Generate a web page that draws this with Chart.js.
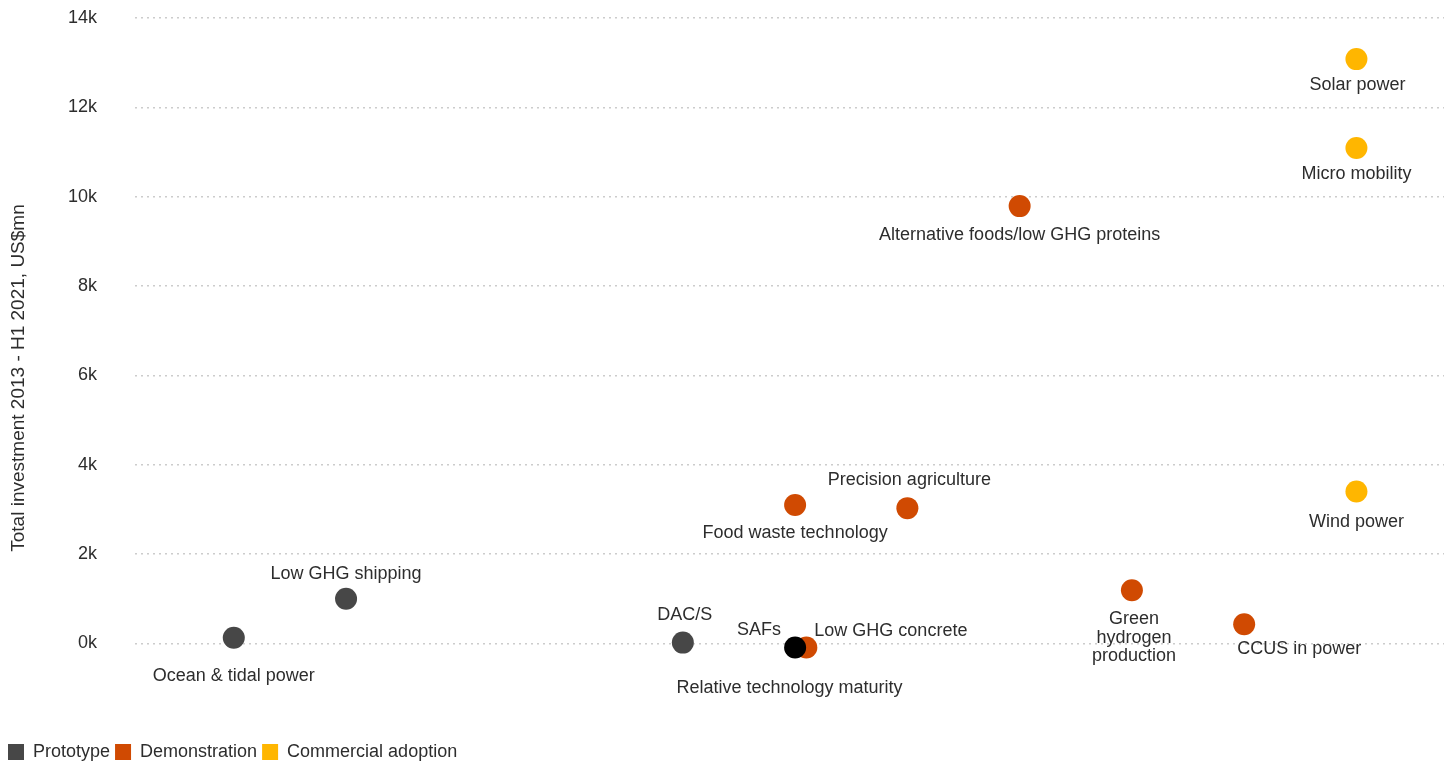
<!DOCTYPE html>
<html>
<head>
<meta charset="utf-8">
<script src="https://cdn.jsdelivr.net/npm/chart.js@4.4.0/dist/chart.umd.min.js"></script>
<style>
  html, body { margin: 0; padding: 0; background: #fff; }
  #wrap { width: 1444px; height: 762px; }
</style>
</head>
<body>
<div id="wrap"><canvas id="chart"></canvas></div>
<script>
// maturity (x) and total investment 2013 - H1 2021, US$mn (y)
var prototypeNames = ['Ocean & tidal power', 'Low GHG shipping', 'DAC/S', 'SAFs'];
var prototypeX = [1, 2, 5, 6];
var prototypeY = [130, 1000, 20, -90];

var demoNames = ['Low GHG concrete', 'Food waste technology', 'Precision agriculture',
    'Alternative foods/low GHG proteins', 'Green hydrogen production', 'CCUS in power'];
var demoX = [6.1, 6, 7, 8, 9, 10];
var demoY = [-90, 3100, 3030, 9790, 1190, 430];

var commercialNames = ['Solar power', 'Micro mobility', 'Wind power'];
var commercialX = [11, 11, 11];
var commercialY = [13080, 11090, 3400];

var yTicks = [0, 2000, 4000, 6000, 8000, 10000, 12000, 14000];

var FONT = '"Liberation Sans", Arial, sans-serif';
var TEXT = '#2d2d2d';

// where each label sits relative to its point (px), and alignment
var labelPlace = {
    'Ocean & tidal power': [0, 38, 'center'],
    'Low GHG shipping': [0, -25, 'center'],
    'DAC/S': [2, -28, 'center'],
    'SAFs': [-14, -17, 'right'],
    'Low GHG concrete': [8, -16, 'left'],
    'Food waste technology': [0, 28, 'center'],
    'Precision agriculture': [2, -28, 'center'],
    'Alternative foods/low GHG proteins': [0, 29, 'center'],
    'Green hydrogen production': [2, 29, 'center'],
    'CCUS in power': [55, 25, 'center'],
    'Solar power': [1, 26, 'center'],
    'Micro mobility': [0, 26, 'center'],
    'Wind power': [0, 30, 'center']
};
var multiLine = { 'Green hydrogen production': ['Green', 'hydrogen', 'production'] };

function toPoints(xs, ys) {
    var pts = [];
    for (let i = 0; i < xs.length; i++) {
        pts.push({x: xs[i], y: ys[i]});
    }
    return pts;
}

var pointLabels = {
    id: 'pointLabels',
    afterDatasetsDraw: function(chart) {
        var ctx = chart.ctx;
        ctx.save();
        ctx.font = '18px ' + FONT;
        ctx.fillStyle = TEXT;
        ctx.textBaseline = 'middle';
        chart.data.datasets.forEach(function(ds, di) {
            var meta = chart.getDatasetMeta(di);
            meta.data.forEach(function(el, i) {
                var name = ds.names[i];
                var p = labelPlace[name];
                ctx.textAlign = p[2];
                var lines = multiLine[name] || [name];
                for (let k = 0; k < lines.length; k++) {
                    ctx.fillText(lines[k], el.x + p[0], el.y + p[1] + k * 18.5);
                }
            });
        });
        // x axis title sits inside the plot
        ctx.textAlign = 'center';
        ctx.fillText('Relative technology maturity', chart.scales.x.getPixelForValue(5.95), chart.scales.y.getPixelForValue(-1000));
        ctx.restore();
    }
};

var ctx = document.getElementById('chart').getContext('2d');
var chart = new Chart(ctx, {
    type: 'scatter',
    data: {
        datasets: [{
            label: 'Prototype',
            names: prototypeNames,
            data: toPoints(prototypeX, prototypeY),
            backgroundColor: ['#474747', '#474747', '#474747', '#000000'],
            pointRadius: 11,
            pointHoverRadius: 11,
            borderWidth: 0
        }, {
            label: 'Demonstration',
            names: demoNames,
            data: toPoints(demoX, demoY),
            backgroundColor: '#d04a02',
            pointRadius: 11,
            pointHoverRadius: 11,
            borderWidth: 0
        }, {
            label: 'Commercial adoption',
            names: commercialNames,
            data: toPoints(commercialX, commercialY),
            backgroundColor: '#ffb600',
            pointRadius: 11,
            pointHoverRadius: 11,
            borderWidth: 0
        }]
    },
    options: {
        responsive: true,
        maintainAspectRatio: false,
        animation: false,
        layout: { autoPadding: false, padding: { top: 18, right: 0, left: 3, bottom: -9 } },
        scales: {
            x: {
                type: 'linear',
                display: false,
                min: 0.12,
                max: 11.78
            },
            y: {
                min: -2115,
                max: 14000,
                afterBuildTicks: function(axis) {
                    axis.ticks = yTicks.map(function(v) { return {value: v}; });
                },
                afterFit: function(axis) { axis.width = 132; },
                ticks: {
                    padding: 4,
                    color: TEXT,
                    font: { family: FONT, size: 18 },
                    callback: function(v) { return (v / 1000) + 'k'; }
                },
                grid: { color: '#cccccc', lineWidth: 1.5, drawTicks: true, tickLength: 34, tickColor: 'rgba(0,0,0,0)' },
                border: { display: false, dash: [2, 4] },
                title: {
                    display: true,
                    text: 'Total investment 2013 - H1 2021, US$mn',
                    color: TEXT,
                    font: { family: FONT, size: 19 },
                    padding: { top: 4, bottom: 4 }
                }
            }
        },
        plugins: {
            tooltip: { enabled: false },
            legend: {
                position: 'bottom',
                align: 'start',
                labels: {
                    boxWidth: 16,
                    boxHeight: 16,
                    padding: 5,
                    color: TEXT,
                    font: { family: FONT, size: 18 },
                    generateLabels: function(chart) {
                        return chart.data.datasets.map(function(ds, i) {
                            var c = Array.isArray(ds.backgroundColor) ? ds.backgroundColor[0] : ds.backgroundColor;
                            return { text: ds.label, fillStyle: c, strokeStyle: c, lineWidth: 0, datasetIndex: i, fontColor: TEXT };
                        });
                    }
                }
            }
        }
    },
    plugins: [pointLabels]
});
</script>
</body>
</html>
